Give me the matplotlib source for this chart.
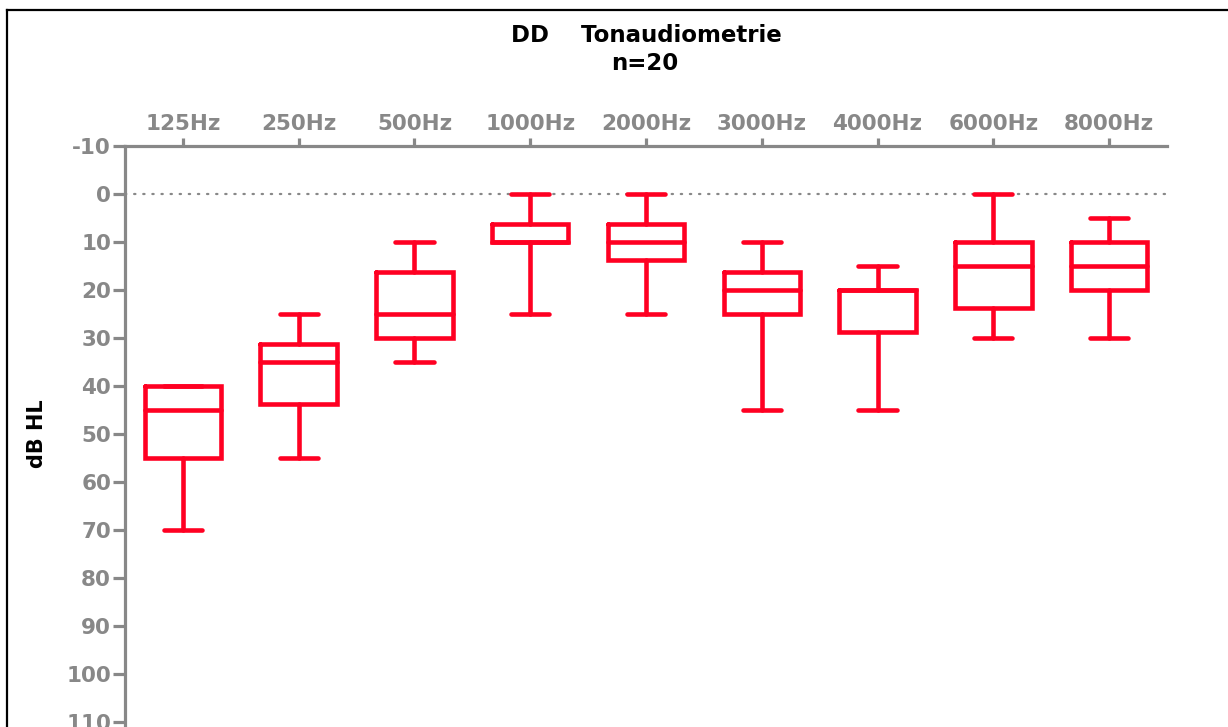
import matplotlib
matplotlib.use("Agg")
import matplotlib.pyplot as plt
from matplotlib.lines import Line2D

# Pure-tone audiometry, hearing level per frequency (dB HL)
frequencies = ["125Hz", "250Hz", "500Hz", "1000Hz", "2000Hz",
               "3000Hz", "4000Hz", "6000Hz", "8000Hz"]
whisker_low = [40, 25, 10, 0, 0, 10, 15, 0, 5]
quartile_1 = [40, 31.25, 16.25, 6.25, 6.25, 16.25, 20, 10, 10]
medians = [45, 35, 25, 10, 10, 20, 20, 15, 15]
quartile_3 = [55, 43.75, 30, 10, 13.75, 25, 28.75, 23.75, 20]
whisker_high = [70, 55, 35, 25, 25, 45, 45, 30, 30]

y_ticks = list(range(-10, 111, 10))

RED = "#FF0022"
GREY = "#888888"
FONT = "DejaVu Sans"

plt.rcParams["font.family"] = FONT

fig = plt.figure(figsize=(12.28, 7.27), dpi=100)
W, H = 1228, 727
ax = fig.add_axes([125 / W, 0.0, (1167 - 125) / W, (727 - 146) / H])

stats = []
for lo, q1, med, q3, hi in zip(whisker_low, quartile_1, medians,
                               quartile_3, whisker_high):
    stats.append(dict(whislo=lo, q1=q1, med=med, q3=q3, whishi=hi,
                      fliers=[]))

line_kw = dict(color=RED, linewidth=3.3, solid_capstyle="round",
               solid_joinstyle="miter")
ax.bxp(stats, positions=range(len(frequencies)), widths=0.66,
       capwidths=0.33, showfliers=False, patch_artist=False,
       boxprops=line_kw, medianprops=line_kw, whiskerprops=line_kw,
       capprops=line_kw, manage_ticks=False)

# reference line at 0 dB HL
ax.axhline(0, color=GREY, linewidth=1.6, linestyle=(0, (0.6, 3.5)),
           dash_capstyle="round", zorder=0)

ax.set_xlim(-0.5, 8.5)
ax.set_ylim(111.05, -10)

ax.xaxis.tick_top()
ax.set_xticks(range(len(frequencies)))
ax.set_xticklabels(frequencies)
ax.set_yticks(y_ticks)
ax.set_yticklabels([str(v) for v in y_ticks])

for side in ("right", "bottom"):
    ax.spines[side].set_visible(False)
for side in ("left", "top"):
    ax.spines[side].set_color(GREY)
    ax.spines[side].set_linewidth(2.3)

ax.tick_params(axis="x", which="both", top=True, bottom=False,
               labeltop=True, labelbottom=False, length=5.5, width=2.3,
               color=GREY, labelcolor=GREY, pad=3, labelsize=15.5)
ax.tick_params(axis="y", length=8.5, width=2.3, color=GREY,
               labelcolor=GREY, pad=1.5, labelsize=15.5)
for lbl in ax.get_xticklabels() + ax.get_yticklabels():
    lbl.set_fontweight("bold")

# titles and axis label
fig.text(646 / W, 1 - 35 / H, "DD    Tonaudiometrie", ha="center",
         va="center", fontsize=16.5, fontweight="bold", color="black")
fig.text(645 / W, 1 - 64 / H, "n=20", ha="center", va="center",
         fontsize=16.5, fontweight="bold", color="black")
fig.text(37 / W, 1 - 434 / H, "dB HL", ha="center", va="center",
         rotation=90, fontsize=15, fontweight="bold", color="black")

# outer frame (top and left edges)
fig.add_artist(Line2D([7 / W, 1.0], [1 - 10 / H, 1 - 10 / H],
                      transform=fig.transFigure, color="black",
                      linewidth=1.6))
fig.add_artist(Line2D([7 / W, 7 / W], [1 - 10 / H, 0.0],
                      transform=fig.transFigure, color="black",
                      linewidth=1.6))

fig.savefig("out.png", dpi=100)
